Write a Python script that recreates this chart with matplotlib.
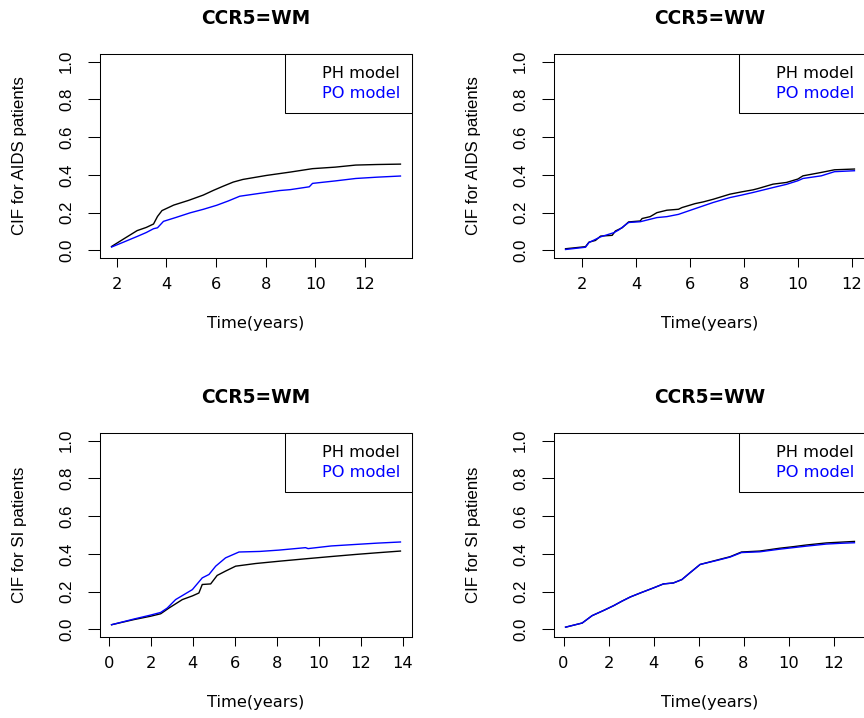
import numpy as np
import matplotlib.pyplot as plt
from matplotlib.lines import Line2D
from matplotlib.ticker import MultipleLocator

# CCR5=WM, AIDS
wm_aids_t_ph = [1.8, 2.3, 2.83, 3.2, 3.49, 3.65, 3.83, 4.3, 4.9, 5.49, 5.9, 6.29, 6.7, 7.09, 8.03, 9.0, 9.89, 10.8, 11.63, 12.5, 13.43]
wm_aids_y_ph = [0.021, 0.062, 0.105, 0.122, 0.14, 0.18, 0.211, 0.24, 0.265, 0.293, 0.318, 0.34, 0.362, 0.376, 0.397, 0.415, 0.433, 0.441, 0.452, 0.455, 0.457]
wm_aids_t_po = [1.8, 2.3, 2.83, 3.2, 3.49, 3.65, 3.89, 4.4, 4.96, 5.5, 6.03, 6.5, 6.96, 7.8, 8.56, 9.0, 9.76, 9.89, 10.8, 11.63, 12.5, 13.43]
wm_aids_y_po = [0.018, 0.045, 0.074, 0.095, 0.115, 0.12, 0.154, 0.175, 0.199, 0.218, 0.239, 0.262, 0.287, 0.303, 0.317, 0.322, 0.337, 0.355, 0.368, 0.381, 0.388, 0.394]

# CCR5=WW, AIDS
ww_aids_t_ph = [1.38, 2.12, 2.25, 2.49, 2.68, 3.11, 3.23, 3.48, 3.72, 4.15, 4.22, 4.52, 4.77, 5.14, 5.57, 5.70, 6.19, 6.49, 6.86, 7.48, 7.91, 8.34, 8.53, 9.08, 9.58, 10.0, 10.19, 10.87, 11.36, 12.1]
ww_aids_y_ph = [0.009, 0.02, 0.044, 0.053, 0.076, 0.08, 0.103, 0.12, 0.151, 0.156, 0.169, 0.179, 0.2, 0.213, 0.218, 0.227, 0.248, 0.257, 0.271, 0.298, 0.31, 0.321, 0.328, 0.351, 0.36, 0.378, 0.395, 0.413, 0.427, 0.431]
ww_aids_t_po = [1.38, 2.12, 2.25, 2.68, 3.17, 3.35, 3.72, 4.15, 4.77, 5.14, 5.57, 6.12, 6.49, 6.86, 7.48, 7.91, 8.34, 9.08, 9.58, 10.0, 10.19, 10.87, 11.36, 12.1]
ww_aids_y_po = [0.005, 0.017, 0.042, 0.072, 0.094, 0.108, 0.148, 0.152, 0.174, 0.179, 0.191, 0.218, 0.236, 0.254, 0.28, 0.293, 0.307, 0.333, 0.35, 0.369, 0.381, 0.395, 0.417, 0.422]

# CCR5=WM, SI
wm_si_t_ph = [0.14, 1.2, 2.0, 2.48, 2.87, 3.51, 4.0, 4.30, 4.46, 4.86, 5.17, 5.57, 6.05, 7.0, 8.2, 9.38, 10.6, 11.76, 12.8, 13.9]
wm_si_y_ph = [0.025, 0.052, 0.07, 0.083, 0.113, 0.158, 0.178, 0.193, 0.238, 0.241, 0.286, 0.309, 0.335, 0.349, 0.362, 0.374, 0.386, 0.397, 0.406, 0.415]
wm_si_t_po = [0.14, 1.2, 2.0, 2.48, 2.79, 3.19, 3.99, 4.46, 4.78, 5.10, 5.57, 6.21, 7.2, 8.11, 9.38, 9.5, 10.6, 11.76, 12.8, 13.9]
wm_si_y_po = [0.025, 0.055, 0.076, 0.09, 0.113, 0.158, 0.211, 0.273, 0.291, 0.335, 0.379, 0.41, 0.413, 0.42, 0.433, 0.428, 0.442, 0.45, 0.457, 0.463]

# CCR5=WW, SI
ww_si_t_ph = [0.09, 0.83, 1.27, 1.79, 2.23, 2.6, 2.97, 3.41, 4.0, 4.44, 4.88, 5.26, 5.62, 6.07, 6.81, 7.40, 7.91, 8.72, 9.61, 10.2, 10.79, 11.68, 12.3, 12.93]
ww_si_y_ph = [0.012, 0.034, 0.073, 0.101, 0.126, 0.15, 0.172, 0.193, 0.22, 0.241, 0.246, 0.264, 0.3, 0.344, 0.367, 0.385, 0.41, 0.415, 0.43, 0.438, 0.447, 0.458, 0.462, 0.466]
ww_si_t_po = [0.09, 0.83, 1.27, 1.79, 2.23, 2.6, 2.97, 3.41, 4.0, 4.44, 4.88, 5.26, 5.62, 6.07, 6.81, 7.40, 7.91, 8.72, 9.61, 10.2, 10.79, 11.68, 12.3, 12.93]
ww_si_y_po = [0.012, 0.034, 0.073, 0.101, 0.126, 0.15, 0.172, 0.193, 0.22, 0.241, 0.246, 0.264, 0.3, 0.344, 0.365, 0.383, 0.407, 0.411, 0.425, 0.433, 0.441, 0.452, 0.456, 0.459]

yticks = [0.0, 0.2, 0.4, 0.6, 0.8, 1.0]
ytick_labels = ['0.0', '0.2', '0.4', '0.6', '0.8', '1.0']
legend_labels = ['PH model', 'PO model']

FS = 11.7
plt.rcParams['font.family'] = ['DejaVu Sans']

fig = plt.figure(figsize=(8.64, 7.18), dpi=100)

def panel(rect, t_ph, y_ph, t_po, y_po, title, ylabel):
    ax = fig.add_axes(rect)
    ax.plot(t_ph, y_ph, color='black', lw=1.0)
    ax.plot(t_po, y_po, color='blue', lw=1.0)
    # R style 4% padding
    ax.margins(x=0.04)
    ax.set_ylim(-0.04, 1.04)
    ax.xaxis.set_major_locator(MultipleLocator(2))
    ax.set_yticks(yticks, labels=ytick_labels, rotation=90, va='center',
                  fontfamily='Liberation Sans', fontsize=FS + 0.5)
    ax.tick_params(axis='x', direction='out', length=6.5, width=0.75, pad=7, labelsize=FS)
    ax.tick_params(axis='y', direction='out', length=8.6, width=0.75, pad=10)
    for s in ax.spines.values():
        s.set_linewidth(0.75)
    ax.set_title(title, fontsize=13.4, fontweight='bold', pad=21.5)
    ax.set_xlabel('Time(years)', fontsize=FS)
    ax.xaxis.set_label_coords(0.5, -0.284)
    ax.set_ylabel(ylabel, fontsize=FS + 0.5, fontfamily='Liberation Sans')
    ax.yaxis.set_label_coords(-0.234, 0.5)
    handles = [Line2D([], [], linestyle='none'), Line2D([], [], linestyle='none')]
    leg = ax.legend(handles, legend_labels, loc='upper right', borderaxespad=0,
                    fancybox=False, framealpha=1, edgecolor='black',
                    labelcolor=['black', 'blue'], handlelength=1.0,
                    handletextpad=0.5, borderpad=0.75, labelspacing=0.3, fontsize=FS)
    leg.get_frame().set_linewidth(0.75)
    return ax

W = 312 / 864
H = 204 / 718
panel([100 / 864, 460 / 718, W, H], wm_aids_t_ph, wm_aids_y_ph, wm_aids_t_po, wm_aids_y_po,
      'CCR5=WM', 'CIF for AIDS patients')
panel([554 / 864, 460 / 718, W, H], ww_aids_t_ph, ww_aids_y_ph, ww_aids_t_po, ww_aids_y_po,
      'CCR5=WW', 'CIF for AIDS patients')
panel([100 / 864, 81 / 718, W, H], wm_si_t_ph, wm_si_y_ph, wm_si_t_po, wm_si_y_po,
      'CCR5=WM', 'CIF for SI patients')
panel([554 / 864, 81 / 718, W, H], ww_si_t_ph, ww_si_y_ph, ww_si_t_po, ww_si_y_po,
      'CCR5=WW', 'CIF for SI patients')

fig.savefig('out.png', dpi=100)
